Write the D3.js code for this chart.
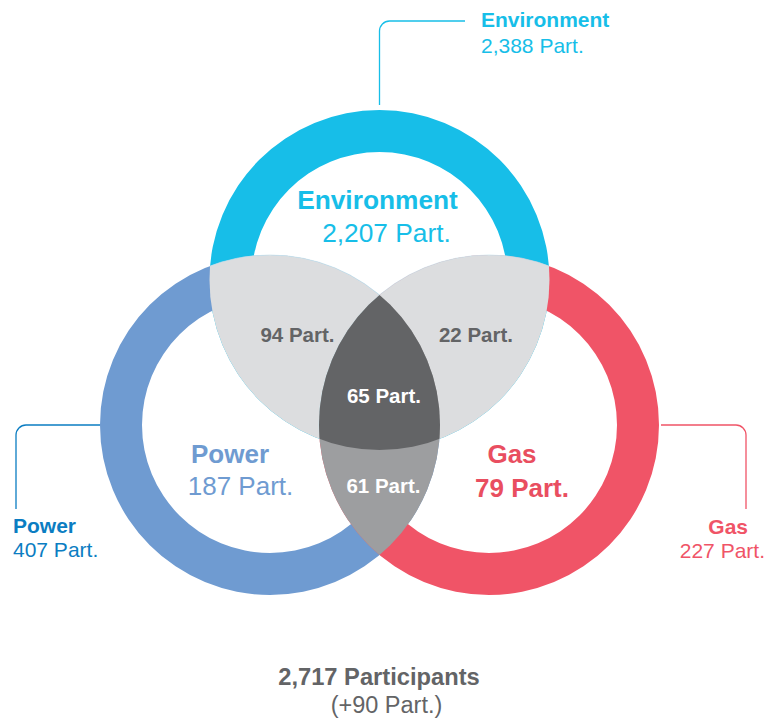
<!DOCTYPE html>
<html><head><meta charset="utf-8">
<script src="https://cdn.jsdelivr.net/npm/d3@7"></script>
<style>
html,body{margin:0;padding:0;background:#fff;}
svg{display:block;font-family:"Liberation Sans",Arial,Helvetica,sans-serif;}
</style></head>
<body>
<svg id="chart" width="766" height="719"></svg>
<script>
// ---- data ----
const setNames = ["Environment", "Power", "Gas"];
const setTotals = [2388, 407, 227];
const setUnique = [2207, 187, 79];
const overlapNames = ["Environment & Power", "Environment & Gas", "Power & Gas", "All three"];
const overlapSets = [[0, 1], [0, 2], [1, 2], [0, 1, 2]];
const overlapValues = [94, 22, 61, 65];
const totalParticipants = 2717;
const extraParticipants = 90;

// ---- styles / layout ----
const ringColors = ["#17BEE8", "#6F9BD1", "#F05467"];
const labelColors = ["#17BEE8", "#0B7DC2", "#F05467"];
const innerLabelColors = ["#17BEE8", "#6F9BD1", "#E94E60"];
const fmt = d3.format(",");
const R = 170, ringW = 42;
const centers = [
  [379.5, 280],
  [270, 425],
  [489, 425]
];

const svg = d3.select("#chart");
const defs = svg.append("defs");
centers.forEach((c, i) => {
  defs.append("clipPath").attr("id", "clip" + i)
    .append("circle").attr("cx", c[0]).attr("cy", c[1]).attr("r", R);
});

// rings
const arc = d3.arc().innerRadius(R - ringW).outerRadius(R).startAngle(0).endAngle(2 * Math.PI);
svg.append("g").selectAll("path").data(setNames).join("path")
  .attr("transform", (d, i) => `translate(${centers[i][0]},${centers[i][1]})`)
  .attr("d", arc())
  .attr("fill", (d, i) => ringColors[i]);

// overlaps
const overlapFill = ["#DCDDDF", "#DCDDDF", "#9D9EA0", "#636466"];
function drawOverlap(k) {
  const s = overlapSets[k];
  let g = svg.append("g");
  for (let j = 0; j < s.length - 1; j++) {
    g = g.append("g").attr("clip-path", `url(#clip${s[j]})`);
  }
  const last = centers[s[s.length - 1]];
  g.append("circle").attr("cx", last[0]).attr("cy", last[1]).attr("r", R)
    .attr("fill", overlapFill[k])
    .attr("stroke", k < 2 ? "#c6e2ec" : "none")
    .attr("stroke-width", 0.7);
}
overlapValues.forEach((v, k) => drawOverlap(k));

// leader lines
const lc = labelColors;
const env = centers[0], pow = centers[1], gas = centers[2];
svg.append("path")
  .attr("d", `M465,21 H${env[0] + 10} A10,10 0 0 0 ${env[0]},31 V${env[1] - R - 5}`)
  .attr("fill", "none").attr("stroke", lc[0]).attr("stroke-width", 1.3);
svg.append("path")
  .attr("d", `M${pow[0] - R},${pow[1]} H26 A10,10 0 0 0 16,${pow[1] + 10} V509`)
  .attr("fill", "none").attr("stroke", lc[1]).attr("stroke-width", 1.3);
svg.append("path")
  .attr("d", `M${gas[0] + R + 2},${gas[1]} H736 A10,10 0 0 1 746,${gas[1] + 10} V509`)
  .attr("fill", "none").attr("stroke", lc[2]).attr("stroke-width", 1.3);

function txt(s, tx, ty, opts) {
  return svg.append("text").attr("x", tx).attr("y", ty)
    .attr("text-anchor", opts.anchor || "middle")
    .attr("font-size", opts.size)
    .attr("font-weight", opts.bold ? 700 : 400)
    .attr("fill", opts.color)
    .text(s);
}

// outer labels
txt(setNames[0], 481, 27, {anchor: "start", size: 21, bold: true, color: lc[0]});
txt(fmt(setTotals[0]) + " Part.", 481, 53, {anchor: "start", size: 21, color: lc[0]});
txt(setNames[1], 13, 533, {anchor: "start", size: 21, bold: true, color: lc[1]});
txt(fmt(setTotals[1]) + " Part.", 13, 557, {anchor: "start", size: 21, color: lc[1]});
txt(setNames[2], 748, 534, {anchor: "end", size: 21, bold: true, color: lc[2]});
txt(fmt(setTotals[2]) + " Part.", 765, 558, {anchor: "end", size: 21, color: lc[2]});

// inner set labels
txt(setNames[0], 377.5, 209, {size: 26.3, bold: true, color: innerLabelColors[0]});
txt(fmt(setUnique[0]) + " Part.", 386.5, 242, {size: 26.3, color: innerLabelColors[0]});
txt(setNames[1], 230, 463, {size: 26, bold: true, color: innerLabelColors[1]});
txt(fmt(setUnique[1]) + " Part.", 240.5, 495, {size: 26, color: innerLabelColors[1]});
txt(setNames[2], 512, 463, {size: 26, bold: true, color: innerLabelColors[2]});
txt(fmt(setUnique[2]) + " Part.", 522, 497, {size: 26, bold: true, color: innerLabelColors[2]});

// overlap labels
const overlapPos = [[297.5, 342], [476, 342], [383.5, 493], [384, 403]];
const overlapTextColor = ["#636466", "#636466", "#ffffff", "#ffffff"];
overlapValues.forEach((v, k) => {
  txt(fmt(v) + " Part.", overlapPos[k][0], overlapPos[k][1], {size: 20.5, bold: true, color: overlapTextColor[k]});
});

// total
txt(fmt(totalParticipants) + " Participants", 379, 685, {size: 23.7, bold: true, color: "#636466"});
txt("(+" + fmt(extraParticipants) + " Part.)", 386.5, 713, {size: 23.5, color: "#636466"});
</script>
</body></html>
